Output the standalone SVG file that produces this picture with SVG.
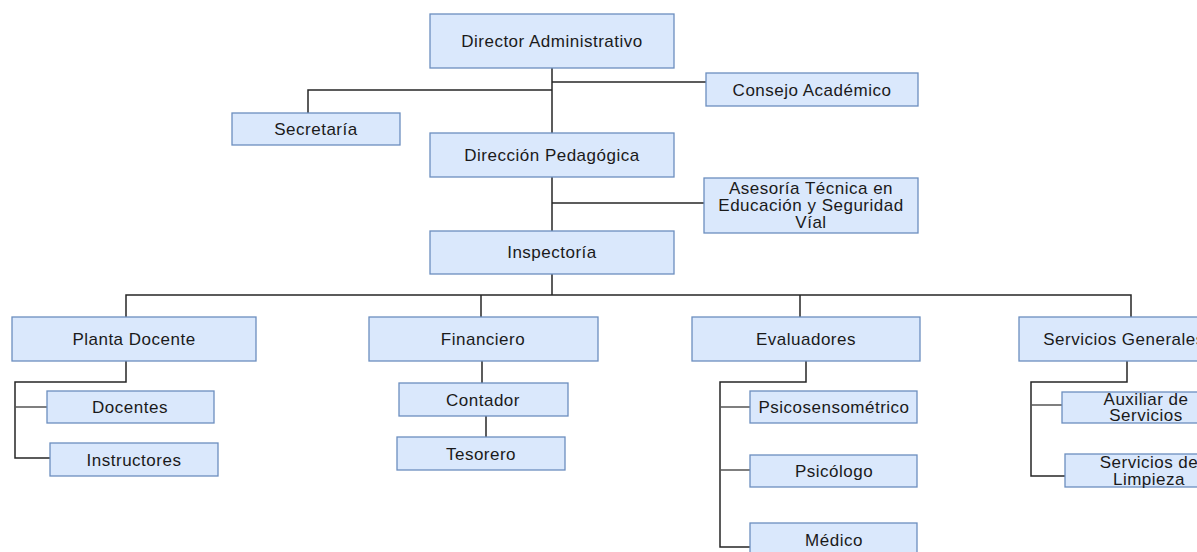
<svg xmlns="http://www.w3.org/2000/svg" width="1197" height="552" viewBox="0 0 1197 552">
  <style>
    .box { fill: #dae8fc; stroke: #6c8ebf; stroke-width: 1.3; }
    .lbl { font-family: "Liberation Sans", Arial, sans-serif; font-size: 17px; letter-spacing: 0.5px; fill: #1a1a1a; text-anchor: middle; dominant-baseline: central; }
    .wire { fill: none; stroke: #262626; stroke-width: 1.5; }
    .wire.soft { stroke: #555555; }
  </style>
  <rect width="1197" height="552" fill="#ffffff"/>

  <!-- connectors -->
  <g id="connectors">
    <path class="wire" d="M552 68 V295"/>
    <path class="wire" d="M552 90 H308 V113"/>
    <path class="wire" d="M552 82 H706"/>
    <path class="wire" d="M552 203 H704"/>
    <path class="wire" d="M126 317 V295 H1131 V317"/>
    <path class="wire" d="M481 295 V317"/>
    <path class="wire" d="M800 295 V317"/>
    <!-- Planta Docente children -->
    <path class="wire" d="M126 361 V382 H15 V458 H50"/>
    <path class="wire soft" d="M15 407 H47"/>
    <!-- Financiero chain -->
    <path class="wire" d="M482 361 V383"/>
    <path class="wire" d="M486 416 V437"/>
    <!-- Evaluadores children -->
    <path class="wire" d="M806 361 V382 H720 V547 H750"/>
    <path class="wire soft" d="M720 407 H750"/>
    <path class="wire soft" d="M720 470 H750"/>
    <!-- Servicios Generales children -->
    <path class="wire" d="M1127 361 V382 H1031 V476 H1065"/>
    <path class="wire soft" d="M1031 405 H1062"/>
  </g>

  <g id="director-administrativo">
    <rect class="box" x="430" y="14" width="244" height="54"/>
    <text class="lbl" x="552" y="41">Director Administrativo</text>
  </g>
  <g id="consejo-academico">
    <rect class="box" x="706" y="73" width="212" height="33"/>
    <text class="lbl" x="812" y="90">Consejo Académico</text>
  </g>
  <g id="secretaria">
    <rect class="box" x="232" y="113" width="168" height="32"/>
    <text class="lbl" x="316" y="129">Secretaría</text>
  </g>
  <g id="direccion-pedagogica">
    <rect class="box" x="430" y="133" width="244" height="44"/>
    <text class="lbl" x="552" y="155">Dirección Pedagógica</text>
  </g>
  <g id="asesoria-tecnica">
    <rect class="box" x="704" y="178" width="214" height="55"/>
    <text class="lbl" x="811" y="188">Asesoría Técnica en</text>
    <text class="lbl" x="811" y="205">Educación y Seguridad</text>
    <text class="lbl" x="811" y="222">Víal</text>
  </g>
  <g id="inspectoria">
    <rect class="box" x="430" y="231" width="244" height="43"/>
    <text class="lbl" x="552" y="252">Inspectoría</text>
  </g>

  <g id="planta-docente">
    <rect class="box" x="12" y="317" width="244" height="44"/>
    <text class="lbl" x="134" y="339">Planta Docente</text>
  </g>
  <g id="financiero">
    <rect class="box" x="369" y="317" width="229" height="44"/>
    <text class="lbl" x="483" y="339">Financiero</text>
  </g>
  <g id="evaluadores">
    <rect class="box" x="692" y="317" width="228" height="44"/>
    <text class="lbl" x="806" y="339">Evaluadores</text>
  </g>
  <g id="servicios-generales">
    <rect class="box" x="1019" y="317" width="229" height="44"/>
    <text class="lbl" x="1124" y="339">Servicios Generales</text>
  </g>

  <g id="docentes">
    <rect class="box" x="47" y="391" width="167" height="32"/>
    <text class="lbl" x="130" y="407">Docentes</text>
  </g>
  <g id="instructores">
    <rect class="box" x="50" y="443" width="168" height="33"/>
    <text class="lbl" x="134" y="460">Instructores</text>
  </g>

  <g id="contador">
    <rect class="box" x="399" y="383" width="169" height="33"/>
    <text class="lbl" x="483" y="400">Contador</text>
  </g>
  <g id="tesorero">
    <rect class="box" x="397" y="437" width="168" height="33"/>
    <text class="lbl" x="481" y="454">Tesorero</text>
  </g>

  <g id="psicosensometrico">
    <rect class="box" x="750" y="391" width="167" height="32"/>
    <text class="lbl" x="834" y="407">Psicosensométrico</text>
  </g>
  <g id="psicologo">
    <rect class="box" x="750" y="455" width="167" height="32"/>
    <text class="lbl" x="834" y="471">Psicólogo</text>
  </g>
  <g id="medico">
    <rect class="box" x="750" y="523" width="167" height="33"/>
    <text class="lbl" x="834" y="540">Médico</text>
  </g>

  <g id="auxiliar-servicios">
    <rect class="box" x="1062" y="392" width="168" height="31"/>
    <text class="lbl" x="1146" y="399">Auxiliar de</text>
    <text class="lbl" x="1146" y="415">Servicios</text>
  </g>
  <g id="servicios-limpieza">
    <rect class="box" x="1065" y="454" width="168" height="33"/>
    <text class="lbl" x="1149" y="462">Servicios de</text>
    <text class="lbl" x="1149" y="479">Limpieza</text>
  </g>
</svg>
